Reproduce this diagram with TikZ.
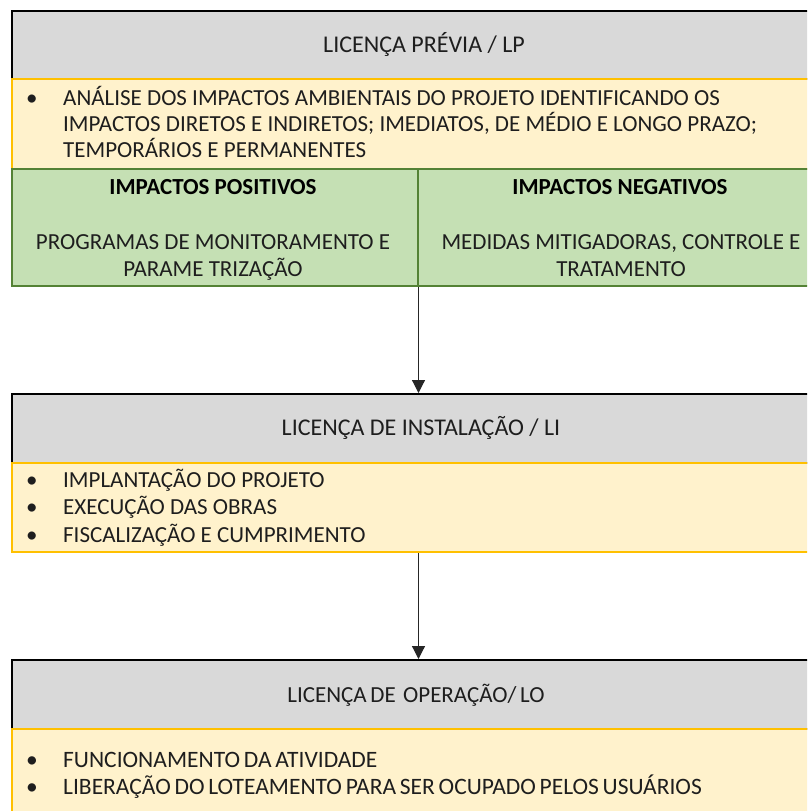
\documentclass[tikz,border=0pt]{standalone}
\usepackage{fontspec}
\setmainfont{Carlito}
\usetikzlibrary{arrows.meta}

\definecolor{hdrgray}{HTML}{D9D9D9}
\definecolor{notefill}{HTML}{FFF2CC}
\definecolor{noteedge}{HTML}{FFC000}
\definecolor{impfill}{HTML}{C5E0B4}
\definecolor{impedge}{HTML}{548235}
\definecolor{txt}{HTML}{1E1E1E}

\newcommand{\bodyfont}{\fontsize{23}{27}\selectfont}
\newcommand{\titlefont}{\fontsize{24}{28}\selectfont}
\newcommand{\tightfont}{\fontsize{23.5}{27}\selectfont\spaceskip=0.16em plus 0.05em\relax}
\newcommand{\tighttitle}{\fontsize{23}{27}\selectfont\spaceskip=0.16em plus 0.05em\relax}

\tikzset{
  hdrbox/.style={draw=black, line width=2pt, fill=hdrgray, anchor=north west,
    inner sep=0pt, minimum width=819pt},
  notebox/.style={draw=noteedge, line width=2pt, fill=notefill, anchor=north west,
    inner sep=0pt, minimum width=819pt},
  impbox/.style={draw=impedge, line width=2pt, fill=impfill, anchor=north west,
    inner sep=0pt},
  ttl/.style={anchor=base, inner sep=0pt, text=txt, font=\titlefont},
  lin/.style={anchor=base west, inner sep=0pt, text=txt, font=\bodyfont},
  ctr/.style={anchor=base, inner sep=0pt, text=txt, font=\bodyfont},
  hd/.style={anchor=base, inner sep=0pt, text=black, font=\bodyfont\bfseries},
  nlin/.style={anchor=base west, inner sep=0pt, text=txt, font=\tightfont},
  flow/.style={draw=black!85, line width=1.2pt, -{Triangle[width=13pt,length=13pt]}}
}
\newcommand{\bul}{\makebox[30pt][l]{\hspace{-7pt}•}}

\begin{document}
\begin{tikzpicture}[x=1pt,y=-1pt]
\useasboundingbox (0,0) rectangle (807,811);
\clip (0,0) rectangle (807,811);

% ---- Licença Prévia
\node[hdrbox, minimum height=68pt] (lp) at (11,10) {};
\node[notebox, minimum height=90pt] (lpn) at (11,78) {};
\node[impbox, minimum width=405.5pt, minimum height=117pt] (pos) at (11,168) {};
\node[impbox, minimum width=413.5pt, minimum height=117pt] (neg) at (416.5,168) {};

\node[ttl] (lpt) at (424,52) {LICENÇA PRÉVIA / LP};
\node[lin] (lpa) at (33,105) {\bul ANÁLISE DOS IMPACTOS AMBIENTAIS DO PROJETO IDENTIFICANDO OS};
\node[lin] (lpb) at (63,131) {IMPACTOS DIRETOS E INDIRETOS; IMEDIATOS, DE MÉDIO E LONGO PRAZO;};
\node[lin] (lpc) at (63,157) {TEMPORÁRIOS E PERMANENTES};

\node[hd]  (posh) at (213,194) {IMPACTOS POSITIVOS};
\node[ctr] (posa) at (213,249) {PROGRAMAS DE MONITORAMENTO E};
\node[ctr] (posb) at (213,276) {PARAME TRIZAÇÃO};
\node[hd]  (negh) at (620,194) {IMPACTOS NEGATIVOS};
\node[ctr] (nega) at (621,249) {MEDIDAS MITIGADORAS, CONTROLE E};
\node[ctr] (negb) at (621,276) {TRATAMENTO};

% ---- Licença de Instalação
\node[hdrbox, minimum height=69pt] (li) at (11,393) {};
\node[notebox, minimum height=89pt] (lin) at (11,462) {};
\node[ttl] (lit) at (421,435) {LICENÇA DE INSTALAÇÃO / LI};
\node[lin] (lia) at (33,487) {\bul IMPLANTAÇÃO DO PROJETO};
\node[lin] (lib) at (33,514) {\bul EXECUÇÃO DAS OBRAS};
\node[lin] (lic) at (33,542) {\bul FISCALIZAÇÃO E CUMPRIMENTO};

% ---- Licença de Operação
\node[hdrbox, minimum height=69pt] (lo) at (11,659) {};
\node[notebox, minimum height=100pt] (lon) at (11,728) {};
\node[ttl, font=\tighttitle] (lot) at (416,702) {LICENÇA DE\ \ OPERAÇÃO/ LO};
\node[nlin] (loa) at (33,767) {\bul FUNCIONAMENTO DA ATIVIDADE};
\node[nlin] (lob) at (33,794) {\bul LIBERAÇÃO DO LOTEAMENTO PARA SER OCUPADO PELOS USUÁRIOS};

% ---- connectors
\coordinate (c1) at (pos.south east |- lin.south);
\draw[flow] (pos.south east) -- (pos.south east |- li.north);
\draw[flow] (c1) -- (c1 |- lo.north);
\end{tikzpicture}
\end{document}
